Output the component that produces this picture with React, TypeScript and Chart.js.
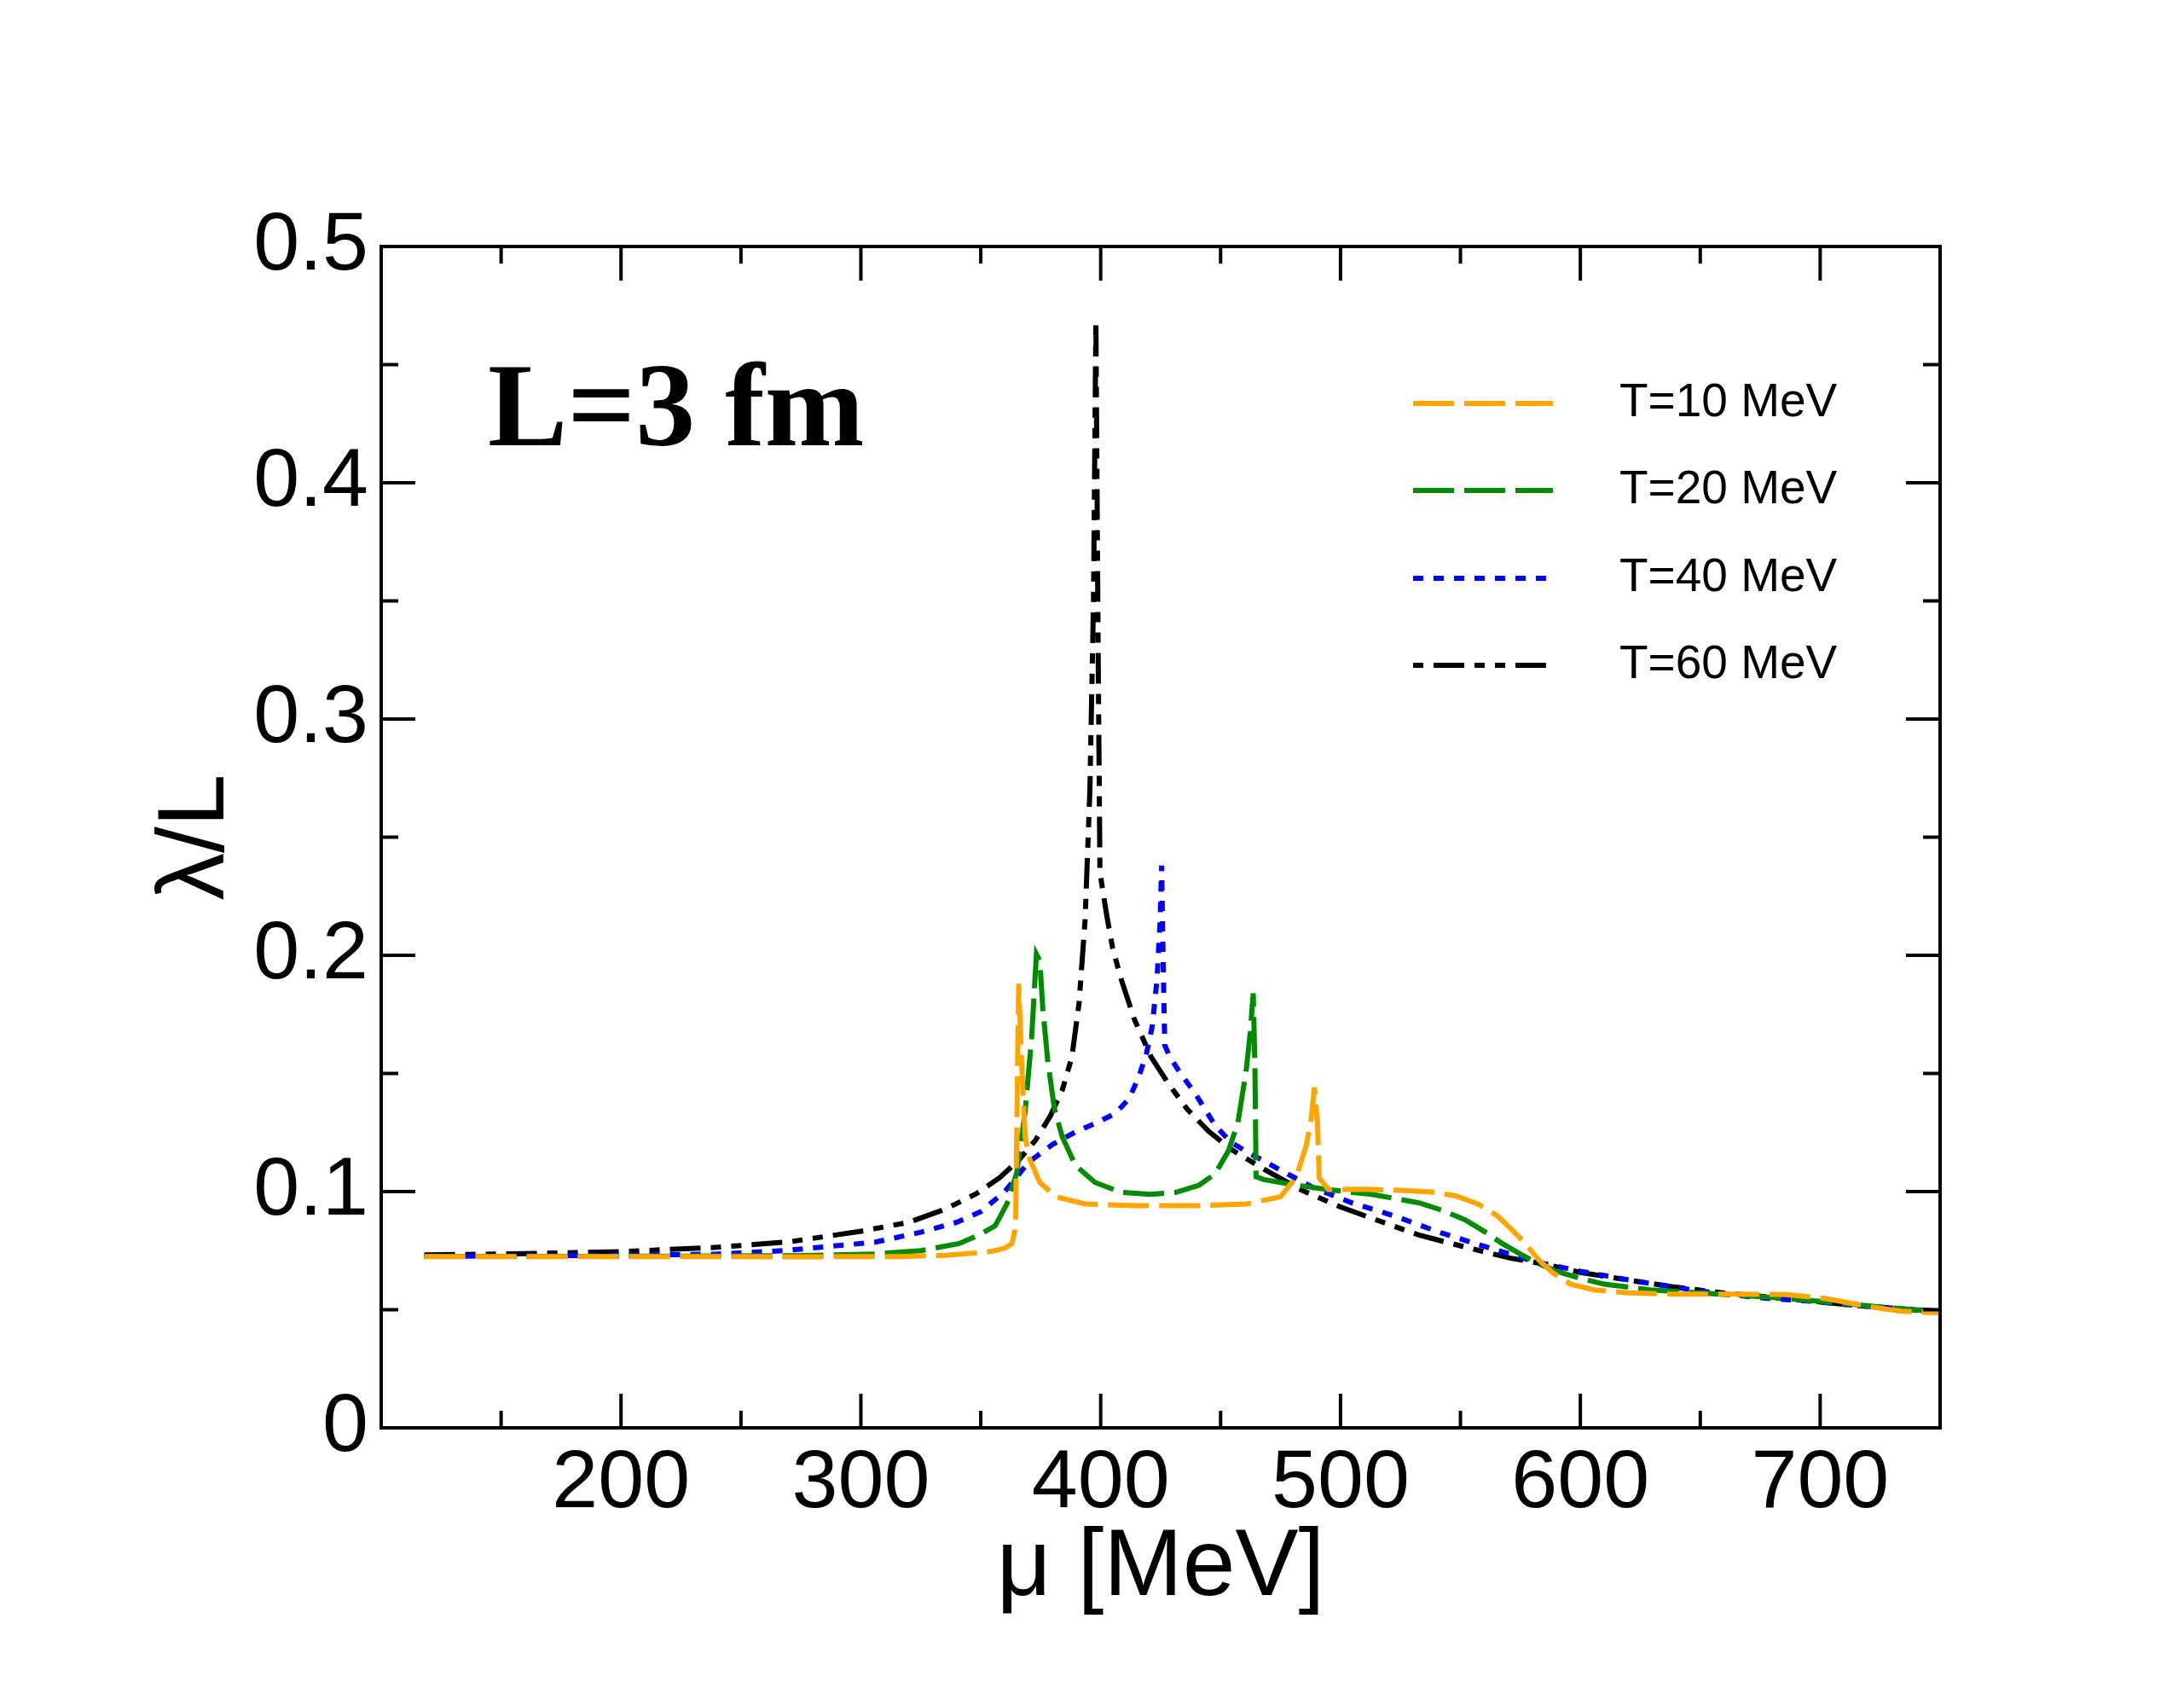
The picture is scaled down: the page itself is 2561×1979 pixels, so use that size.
import { useEffect, useRef } from 'react';
import { Chart, registerables } from 'chart.js';

Chart.register(...registerables);

const W = 2561;
const H = 1979;

// ---- data (mu in MeV, lambda/L) ----
const muT10 = [118, 200, 277, 316, 335, 349, 354, 360, 363, 364.5, 365.3, 365.8, 367.1, 368.5, 370.5, 374.6, 381.3, 393.5, 414, 441, 461, 475, 481.6, 485.7, 487.7, 489.1, 490.4, 491.1, 495, 510, 523, 538, 548, 557.6, 565.3, 571, 576.8, 582.6, 588.4, 596, 605.7, 619, 638, 667, 686, 702, 721, 734, 746, 750];
const lamT10 = [0.0725, 0.0725, 0.0724, 0.0725, 0.073, 0.0741, 0.0746, 0.076, 0.078, 0.085, 0.15, 0.188, 0.153, 0.123, 0.1135, 0.1039, 0.0978, 0.0948, 0.094, 0.094, 0.0948, 0.0978, 0.1063, 0.1195, 0.1303, 0.144, 0.129, 0.1057, 0.1009, 0.101, 0.1006, 0.0998, 0.0982, 0.0946, 0.0898, 0.0843, 0.0783, 0.0711, 0.0657, 0.0608, 0.0584, 0.0572, 0.0566, 0.0566, 0.0564, 0.0548, 0.0512, 0.0494, 0.0488, 0.0487];

const muT20 = [118, 200, 277, 306, 325, 341, 350, 356, 361, 365, 368.5, 371.2, 373.2, 374.6, 375.9, 377.9, 380.7, 384, 389.5, 397.6, 408.4, 420.6, 431.5, 441, 447.7, 453.2, 457.2, 460.6, 462.4, 463.6, 464.3, 464.8, 468, 481.6, 495, 513, 533, 542, 552, 560, 567, 575, 583, 590, 600, 610, 629, 648, 667, 686, 706, 725, 746, 750];
const lamT20 = [0.0726, 0.0726, 0.0729, 0.0736, 0.075, 0.078, 0.082, 0.0855, 0.095, 0.108, 0.134, 0.165, 0.2005, 0.1977, 0.177, 0.1556, 0.1351, 0.1231, 0.111, 0.1039, 0.0997, 0.0988, 0.0997, 0.1027, 0.1075, 0.1171, 0.1291, 0.1508, 0.1676, 0.1839, 0.1532, 0.1063, 0.1051, 0.1027, 0.1008, 0.0988, 0.0952, 0.0922, 0.088, 0.0831, 0.0783, 0.0735, 0.0693, 0.0663, 0.0633, 0.0608, 0.0584, 0.0572, 0.056, 0.0548, 0.053, 0.0512, 0.0494, 0.0492];

const muT40 = [118, 200, 239, 268, 287, 306, 325, 340, 350, 360, 370, 380, 390, 398, 406, 412, 416, 419, 421.5, 423.5, 424.8, 425.4, 426, 426.7, 428.8, 433, 439.6, 447.7, 454.5, 462.6, 473.5, 488, 504, 523, 542, 561, 581, 600, 619, 638, 658, 677, 696, 715, 735, 750];
const lamT40 = [0.0726, 0.073, 0.0735, 0.075, 0.0768, 0.0786, 0.0828, 0.087, 0.0915, 0.1, 0.1125, 0.12, 0.1255, 0.129, 0.133, 0.1395, 0.149, 0.158, 0.17, 0.19, 0.215, 0.238, 0.2, 0.162, 0.157, 0.1505, 0.1412, 0.128, 0.1207, 0.1159, 0.1099, 0.102, 0.0955, 0.0895, 0.0825, 0.0765, 0.0703, 0.0663, 0.0628, 0.0597, 0.0568, 0.0549, 0.0536, 0.0518, 0.0503, 0.0494];

const muT60 = [118, 160, 200, 240, 270, 300, 320, 335, 348, 358, 366, 373, 379, 384, 388, 391, 393.5, 395.5, 397, 398, 399, 399.7, 402.5, 405, 408.5, 414, 421, 428, 436, 445, 455, 468, 484, 500, 515, 533, 552, 571, 585, 600, 619, 638, 658, 677, 696, 715, 735, 750];
const lamT60 = [0.0732, 0.0737, 0.0746, 0.0764, 0.0787, 0.0832, 0.087, 0.0925, 0.099, 0.106, 0.1135, 0.122, 0.132, 0.143, 0.157, 0.18, 0.215, 0.27, 0.35, 0.4687, 0.32, 0.235, 0.217, 0.203, 0.19, 0.173, 0.157, 0.146, 0.135, 0.1255, 0.1175, 0.1095, 0.1005, 0.0935, 0.088, 0.0815, 0.0765, 0.0718, 0.0693, 0.0658, 0.0627, 0.0598, 0.0573, 0.0555, 0.0537, 0.0518, 0.0502, 0.0494];

const seriesLabels = ['T=10 MeV', 'T=20 MeV', 'T=40 MeV', 'T=60 MeV'];
const xMajorTicks = [200, 300, 400, 500, 600, 700];
const xTickLabels = ['200', '300', '400', '500', '600', '700'];
const yMajorTicks = [0, 0.1, 0.2, 0.3, 0.4, 0.5];
const yTickLabels = ['0', '0.1', '0.2', '0.3', '0.4', '0.5'];
const xTitle = 'μ [MeV]';
const yTitle = 'λ/L';
const annotation = 'L=3 fm';

const SANS = '"Liberation Sans", Arial, Helvetica, sans-serif';
const SERIF = '"Liberation Serif", "Times New Roman", serif';

const toPts = (xs: number[], ys: number[]) => xs.map((x, i) => ({ x, y: ys[i] }));
const near = (list: number[], v: number, eps: number) => list.findIndex((t) => Math.abs(t - v) < eps);

const decorPlugin = {
  id: 'decor',
  afterDatasetsDraw(chart: any) {
    const { ctx, chartArea: a } = chart;
    const xs = chart.scales.x;
    const ys = chart.scales.y;
    ctx.save();
    ctx.strokeStyle = '#000';
    ctx.lineWidth = 4;
    ctx.setLineDash([]);
    ctx.lineCap = 'butt';
    const MAJ = 40;
    const MIN = 20;
    const seg = (x1: number, y1: number, x2: number, y2: number) => {
      ctx.beginPath();
      ctx.moveTo(x1, y1);
      ctx.lineTo(x2, y2);
      ctx.stroke();
    };
    for (const t of xs.ticks) {
      const px = xs.getPixelForValue(t.value);
      if (px <= a.left + 1 || px >= a.right - 1) continue;
      const len = Math.abs(t.value % 100) < 1e-6 ? MAJ : MIN;
      seg(px, a.bottom, px, a.bottom - len);
      seg(px, a.top, px, a.top + len);
    }
    for (const t of ys.ticks) {
      const py = ys.getPixelForValue(t.value);
      if (py <= a.top + 1 || py >= a.bottom - 1) continue;
      const len = near(yMajorTicks, t.value, 1e-6) >= 0 ? MAJ : MIN;
      seg(a.left, py, a.left + len, py);
      seg(a.right, py, a.right - len, py);
    }
    ctx.strokeRect(a.left, a.top, a.right - a.left, a.bottom - a.top);

    // legend
    const rowY = [473, 575, 678, 780];
    const lx1 = 1657;
    const lx2 = 1821;
    const tx = 1899;
    chart.data.datasets.forEach((ds: any, i: number) => {
      const y = rowY[i];
      ctx.save();
      ctx.strokeStyle = ds.borderColor;
      ctx.lineWidth = ds.borderWidth;
      ctx.setLineDash(ds.borderDash || []);
      ctx.lineDashOffset = ds.legendDashOffset || 0;
      seg(lx1, y, lx2, y);
      ctx.restore();
      ctx.fillStyle = '#000';
      ctx.font = `55px ${SANS}`;
      ctx.textAlign = 'left';
      ctx.textBaseline = 'middle';
      ctx.fillText(ds.label, tx, y);
    });

    // annotation
    ctx.fillStyle = '#000';
    ctx.font = `bold 140px ${SERIF}`;
    ctx.textAlign = 'left';
    ctx.textBaseline = 'alphabetic';
    ctx.fillText(annotation, 572, 522);
    ctx.restore();
  },
};

export default function App() {
  const ref = useRef<HTMLCanvasElement | null>(null);

  useEffect(() => {
    document.body.style.margin = '0';
    document.body.style.overflow = 'hidden';
    const canvas = ref.current;
    if (!canvas) return;
    const common = { pointRadius: 0, borderWidth: 6, tension: 0, fill: false, borderCapStyle: 'butt' as const };
    const chart = new Chart(canvas, {
      type: 'line',
      data: {
        datasets: [
          { ...common, label: seriesLabels[0], data: toPts(muT10, lamT10), borderColor: '#FFA500', borderDash: [48, 12] },
          { ...common, label: seriesLabels[1], data: toPts(muT20, lamT20), borderColor: '#008B00', borderDash: [48, 12] },
          { ...common, label: seriesLabels[2], data: toPts(muT40, lamT40), borderColor: '#0000FF', borderDash: [12, 12] },
          { ...common, label: seriesLabels[3], data: toPts(muT60, lamT60), borderColor: '#000000', borderDash: [36, 12, 12, 12, 12, 12], legendDashOffset: 72 } as any,
        ],
      },
      options: {
        animation: false,
        responsive: false,
        layout: { padding: { top: 289, right: 286, left: 0, bottom: 0 } },
        plugins: { legend: { display: false }, tooltip: { enabled: false } },
        scales: {
          x: {
            type: 'linear',
            position: 'bottom',
            min: 100,
            max: 750,
            grid: { display: false, drawTicks: false },
            border: { display: false },
            ticks: {
              stepSize: 50,
              autoSkip: false,
              maxRotation: 0,
              padding: 8,
              color: '#000',
              font: { family: SANS, size: 97 },
              callback: (v: any) => {
                const i = near(xMajorTicks, Number(v), 1e-6);
                return i >= 0 ? xTickLabels[i] : '';
              },
            },
            title: {
              display: true,
              text: xTitle,
              color: '#000',
              font: { family: SANS, size: 111 },
              padding: { top: 0, bottom: 73 },
            },
            afterFit: (s: any) => {
              s.height = 305;
            },
          },
          y: {
            type: 'linear',
            position: 'left',
            min: 0,
            max: 0.5,
            grid: { display: false, drawTicks: false },
            border: { display: false },
            ticks: {
              stepSize: 0.05,
              autoSkip: false,
              padding: 15,
              color: '#000',
              font: { family: SANS, size: 97 },
              callback: (v: any) => {
                const i = near(yMajorTicks, Number(v), 1e-6);
                return i >= 0 ? yTickLabels[i] : '';
              },
            },
            title: {
              display: true,
              text: yTitle,
              color: '#000',
              font: { family: SANS, size: 111 },
              padding: { top: 165, bottom: 0 },
            },
            afterFit: (s: any) => {
              s.width = 447;
            },
          },
        },
      },
      plugins: [decorPlugin],
    });
    return () => chart.destroy();
  }, []);

  return (
    <div style={{ width: W, height: H, background: '#fff' }}>
      <canvas ref={ref} width={W} height={H} style={{ display: 'block', width: W, height: H }} />
    </div>
  );
}
